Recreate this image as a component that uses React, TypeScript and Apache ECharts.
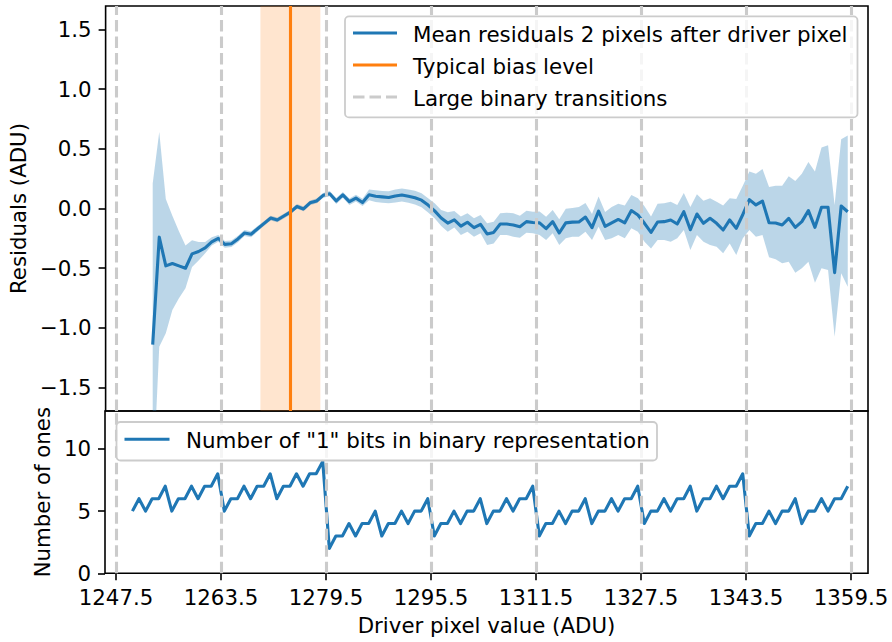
import React, { useEffect, useRef } from "react";
import * as echarts from "echarts";

const FONT = "DejaVu Sans";

const driverValues = [
  1250, 1251, 1252, 1253, 1254, 1255, 1256, 1257, 1258, 1259,
  1260, 1261, 1262, 1263, 1264, 1265, 1266, 1267, 1268, 1269,
  1270, 1271, 1272, 1273, 1274, 1275, 1276, 1277, 1278, 1279,
  1280, 1281, 1282, 1283, 1284, 1285, 1286, 1287, 1288, 1289,
  1290, 1291, 1292, 1293, 1294, 1295, 1296, 1297, 1298, 1299,
  1300, 1301, 1302, 1303, 1304, 1305, 1306, 1307, 1308, 1309,
  1310, 1311, 1312, 1313, 1314, 1315, 1316, 1317, 1318, 1319,
  1320, 1321, 1322, 1323, 1324, 1325, 1326, 1327, 1328, 1329,
  1330, 1331, 1332, 1333, 1334, 1335, 1336, 1337, 1338, 1339,
  1340, 1341, 1342, 1343, 1344, 1345, 1346, 1347, 1348, 1349,
  1350, 1351, 1352, 1353, 1354, 1355, 1356, 1357, 1358, 1359,
];

// number of "1" bits, 1250..1359
const onesCount = [
  5, 6, 5, 6, 6, 7, 5, 6, 6, 7,
  6, 7, 7, 8, 5, 6, 6, 7, 6, 7,
  7, 8, 6, 7, 7, 8, 7, 8, 8, 9,
  2, 3, 3, 4, 3, 4, 4, 5, 3, 4,
  4, 5, 4, 5, 5, 6, 3, 4, 4, 5,
  4, 5, 5, 6, 4, 5, 5, 6, 5, 6,
  6, 7, 3, 4, 4, 5, 4, 5, 5, 6,
  4, 5, 5, 6, 5, 6, 6, 7, 4, 5,
  5, 6, 5, 6, 6, 7, 5, 6, 6, 7,
  6, 7, 7, 8, 3, 4, 4, 5, 4, 5,
  5, 6, 4, 5, 5, 6, 5, 6, 6, 7,
];

// residuals, driver values 1253..1359
const residualDriver = driverValues.slice(3);

const meanResidual = [
  -1.14, -0.24, -0.48, -0.46, -0.48, -0.5, -0.38, -0.36, -0.33, -0.28,
  -0.25, -0.3, -0.295, -0.255, -0.205, -0.215, -0.17, -0.124, -0.08, -0.096,
  -0.063, -0.03, 0.017, -0.004, 0.048, 0.063, 0.11, 0.124, 0.063, 0.114,
  0.057, 0.087, 0.05, 0.115, 0.102, 0.097, 0.092, 0.105, 0.113, 0.102,
  0.09, 0.07, 0.029, -0.02, -0.08, -0.122, -0.095, -0.148, -0.115, -0.16,
  -0.132, -0.213, -0.2, -0.13, -0.13, -0.138, -0.152, -0.11, -0.117, -0.12,
  -0.168, -0.11, -0.205, -0.12, -0.114, -0.113, -0.072, -0.16, -0.022, -0.15,
  -0.12, -0.092, -0.12, -0.017, -0.054, -0.124, -0.2, -0.113, -0.11, -0.096,
  -0.13, -0.027, -0.178, -0.046, -0.124, -0.082, -0.124, -0.18, -0.096, -0.166,
  -0.05, 0.074, 0.03, 0.062, -0.119, -0.122, -0.138, -0.082, -0.158, -0.11,
  -0.018, -0.158, 0.01, 0.01, -0.537, 0.021, -0.027,
];

const bandHigh = [
  0.21, 0.64, 0.08, -0.06, -0.19, -0.31, -0.265, -0.28, -0.28, -0.24,
  -0.222, -0.272, -0.267, -0.228, -0.18, -0.19, -0.147, -0.104, -0.06, -0.076,
  -0.043, -0.01, 0.037, 0.016, 0.068, 0.083, 0.13, 0.146, 0.088, 0.139,
  0.084, 0.115, 0.082, 0.16, 0.152, 0.147, 0.145, 0.16, 0.168, 0.158,
  0.148, 0.128, 0.085, 0.043, -0.013, -0.032, -0.02, -0.068, -0.04, -0.082,
  -0.054, -0.124, -0.11, -0.04, -0.035, -0.04, -0.06, -0.018, -0.027, -0.025,
  -0.07, -0.013, -0.09, -0.002, 0.004, 0.012, 0.045, -0.045, 0.1, -0.03,
  0.013, 0.04, 0.025, 0.112, 0.085, 0.018, -0.068, 0.04, 0.043, 0.057,
  0.03, 0.13, 0.012, 0.12, 0.065, 0.085, 0.057, 0.025, 0.085, 0.08,
  0.19, 0.31, 0.29, 0.33, 0.18, 0.19, 0.19, 0.27, 0.23, 0.29,
  0.39, 0.31, 0.51, 0.53, 0.03, 0.58, 0.61,
];

const bandLow = [
  -2.36, -1.157, -1.045, -0.85, -0.752, -0.668, -0.49, -0.435, -0.375, -0.31,
  -0.278, -0.328, -0.323, -0.282, -0.23, -0.24, -0.193, -0.144, -0.1, -0.116,
  -0.083, -0.05, -0.003, -0.024, 0.028, 0.043, 0.09, 0.102, 0.038, 0.089,
  0.03, 0.059, 0.02, 0.07, 0.055, 0.049, 0.043, 0.051, 0.058, 0.048,
  0.033, 0.01, -0.033, -0.082, -0.146, -0.194, -0.16, -0.222, -0.194, -0.236,
  -0.208, -0.305, -0.292, -0.222, -0.222, -0.236, -0.245, -0.202, -0.208, -0.222,
  -0.264, -0.208, -0.305, -0.25, -0.236, -0.236, -0.194, -0.264, -0.152, -0.264,
  -0.25, -0.222, -0.25, -0.166, -0.194, -0.278, -0.334, -0.264, -0.264, -0.278,
  -0.25, -0.18, -0.347, -0.222, -0.278, -0.305, -0.32, -0.375, -0.292, -0.39,
  -0.25, -0.18, -0.236, -0.222, -0.409, -0.425, -0.459, -0.445, -0.537, -0.5,
  -0.445, -0.621, -0.5, -0.515, -1.073, -0.542, -0.654,
];

const xTicks = [1247.5, 1263.5, 1279.5, 1295.5, 1311.5, 1327.5, 1343.5, 1359.5];
const binaryTransitions = [1247.5, 1263.5, 1279.5, 1295.5, 1311.5, 1327.5, 1343.5, 1359.5];
const topYTicks = [-1.5, -1.0, -0.5, 0.0, 0.5, 1.0, 1.5];
const bottomYTicks = [0, 5, 10];
const biasLevel = 1274;
const biasRange = [1269.43, 1278.57];

const topLegend = [
  "Mean residuals 2 pixels after driver pixel",
  "Typical bias level",
  "Large binary transitions",
];
const bottomLegend = ['Number of "1" bits in binary representation'];

const X_MIN = 1245.82;
const X_MAX = 1362.09;
const BLUE = "#1f77b4";
const ORANGE = "#ff7f0e";
const GRAY = "#cbcbcb";
const LW = 3.1;
const DASH = [11.5, 5];
const AXIS_FS = 21.3;
const LEGEND_FS = 21.4;

function renderBand(params: any, api: any) {
  if (params.dataIndex !== 0) return null;
  const n = params.dataInsideLength;
  const upper: number[][] = [];
  const lower: number[][] = [];
  for (let i = 0; i < n; i++) {
    const x = api.value(0, i);
    upper.push(api.coord([x, api.value(2, i)]));
    lower.push(api.coord([x, api.value(1, i)]));
  }
  const cs = params.coordSys;
  return {
    type: "polygon",
    shape: { points: upper.concat(lower.reverse()) },
    style: { fill: "rgba(31,119,180,0.3)", stroke: "none" },
    clipPath: { type: "rect", shape: { x: cs.x, y: cs.y, width: cs.width, height: cs.height } },
  };
}

function buildOption() {
  const tickStyle = { color: "#000", width: 1.6 };
  const labelBase = { color: "#000", fontSize: AXIS_FS, fontFamily: FONT };
  const fmtSigned = (v: number) => (v < 0 ? "\u2212" : "") + Math.abs(v).toFixed(1);

  const graphicFont = { fontSize: LEGEND_FS, fontFamily: FONT, fill: "#000", verticalAlign: "middle", align: "left" };

  return {
    animation: false,
    backgroundColor: "#fff",
    grid: [
      { left: 105, right: 24, top: 6, height: 405, show: true, borderColor: "#000", borderWidth: 1.6, backgroundColor: "rgba(0,0,0,0)" },
      { left: 105, right: 24, top: 411, height: 162.3, show: true, borderColor: "#000", borderWidth: 1.6, backgroundColor: "rgba(0,0,0,0)" },
    ],
    xAxis: [
      {
        type: "value", gridIndex: 0, min: X_MIN, max: X_MAX,
        axisLine: { show: false }, axisTick: { show: false }, axisLabel: { show: false }, splitLine: { show: false },
      },
      {
        type: "value", gridIndex: 1, min: X_MIN, max: X_MAX,
        axisLine: { show: false },
        axisTick: { show: true, customValues: xTicks, length: 7, lineStyle: tickStyle },
        axisLabel: { ...labelBase, customValues: xTicks, margin: 14, formatter: (v: number) => v.toFixed(1) },
        splitLine: { show: false },
        name: "Driver pixel value (ADU)", nameLocation: "middle", nameGap: 42,
        nameTextStyle: { ...labelBase },
      },
    ],
    yAxis: [
      {
        type: "value", gridIndex: 0, min: -1.695, max: 1.695,
        axisLine: { show: false },
        axisTick: { show: true, customValues: topYTicks, length: 7, lineStyle: tickStyle },
        axisLabel: { ...labelBase, customValues: topYTicks, margin: 14, formatter: fmtSigned },
        splitLine: { show: false },
        name: "Residuals (ADU)", nameLocation: "middle", nameGap: 72,
        nameTextStyle: { ...labelBase },
      },
      {
        type: "value", gridIndex: 1, min: 0, max: 13.05,
        axisLine: { show: false },
        axisTick: { show: true, customValues: bottomYTicks, length: 7, lineStyle: tickStyle },
        axisLabel: { ...labelBase, customValues: bottomYTicks, margin: 14, formatter: (v: number) => String(v) },
        splitLine: { show: false },
        name: "Number of ones", nameLocation: "middle", nameGap: 48,
        nameTextStyle: { ...labelBase },
      },
    ],
    series: [
      {
        type: "custom", name: "band", xAxisIndex: 0, yAxisIndex: 0,
        data: residualDriver.map((x, i) => [x, bandLow[i], bandHigh[i]]),
        encode: { x: 0, y: [1, 2] },
        renderItem: renderBand, silent: true, z: 1,
      },
      {
        type: "line", name: "transitions-top", xAxisIndex: 0, yAxisIndex: 0, data: [], z: 2, silent: true,
        markArea: {
          silent: true,
          itemStyle: { color: "rgba(255,127,14,0.2)" },
          data: [[{ xAxis: biasRange[0] }, { xAxis: biasRange[1] }]],
        },
        markLine: {
          silent: true, symbol: ["none", "none"], label: { show: false },
          lineStyle: { color: GRAY, width: LW, type: DASH },
          emphasis: { disabled: true },
          data: binaryTransitions.map((v) => ({ xAxis: v })),
        },
      },
      {
        type: "line", name: topLegend[0], xAxisIndex: 0, yAxisIndex: 0,
        data: residualDriver.map((x, i) => [x, meanResidual[i]]),
        symbol: "none", silent: true, z: 3,
        lineStyle: { color: BLUE, width: LW, join: "round" },
      },
      {
        type: "line", name: topLegend[1], xAxisIndex: 0, yAxisIndex: 0, data: [], z: 4, silent: true,
        markLine: {
          silent: true, symbol: ["none", "none"], label: { show: false },
          lineStyle: { color: ORANGE, width: LW, type: "solid" },
          emphasis: { disabled: true },
          data: [{ xAxis: biasLevel }],
        },
      },
      {
        type: "line", name: "transitions-bottom", xAxisIndex: 1, yAxisIndex: 1, data: [], z: 2, silent: true,
        markLine: {
          silent: true, symbol: ["none", "none"], label: { show: false },
          lineStyle: { color: GRAY, width: LW, type: DASH },
          emphasis: { disabled: true },
          data: binaryTransitions.map((v) => ({ xAxis: v })),
        },
      },
      {
        type: "line", name: bottomLegend[0], xAxisIndex: 1, yAxisIndex: 1,
        data: driverValues.map((x, i) => [x, onesCount[i]]),
        symbol: "none", silent: true, z: 3,
        lineStyle: { color: BLUE, width: LW, join: "round" },
      },
    ],
    graphic: [
      {
        type: "rect", z: 100, silent: true,
        shape: { x: 345, y: 16.4, width: 512.5, height: 101, r: 4 },
        style: { fill: "rgba(255,255,255,0.8)", stroke: "#cccccc", lineWidth: 1.8 },
      },
      { type: "line", z: 101, silent: true, shape: { x1: 353, y1: 33, x2: 397, y2: 33 }, style: { stroke: BLUE, lineWidth: LW } },
      { type: "text", z: 101, silent: true, x: 413, y: 34, style: { ...graphicFont, text: topLegend[0] } },
      { type: "line", z: 101, silent: true, shape: { x1: 353, y1: 65, x2: 397, y2: 65 }, style: { stroke: ORANGE, lineWidth: LW } },
      { type: "text", z: 101, silent: true, x: 413, y: 66, style: { ...graphicFont, text: topLegend[1] } },
      { type: "line", z: 101, silent: true, shape: { x1: 353, y1: 97, x2: 397, y2: 97 }, style: { stroke: GRAY, lineWidth: LW, lineDash: DASH } },
      { type: "text", z: 101, silent: true, x: 413, y: 98, style: { ...graphicFont, text: topLegend[2] } },
      {
        type: "rect", z: 100, silent: true,
        shape: { x: 116.5, y: 422, width: 540.5, height: 38.5, r: 4 },
        style: { fill: "rgba(255,255,255,0.8)", stroke: "#cccccc", lineWidth: 1.8 },
      },
      { type: "line", z: 101, silent: true, shape: { x1: 124.5, y1: 439.3, x2: 169.5, y2: 439.3 }, style: { stroke: BLUE, lineWidth: LW } },
      { type: "text", z: 101, silent: true, x: 186, y: 440, style: { ...graphicFont, text: bottomLegend[0] } },
    ],
  };
}

export default function App() {
  const ref = useRef<HTMLDivElement>(null);
  useEffect(() => {
    document.body.style.margin = "0";
    const chart = echarts.init(ref.current as HTMLDivElement, null, { renderer: "svg", width: 892, height: 642 });
    chart.setOption(buildOption() as any);
    return () => chart.dispose();
  }, []);
  return <div ref={ref} style={{ width: 892, height: 642, position: "absolute", left: 0, top: 0 }} />;
}
